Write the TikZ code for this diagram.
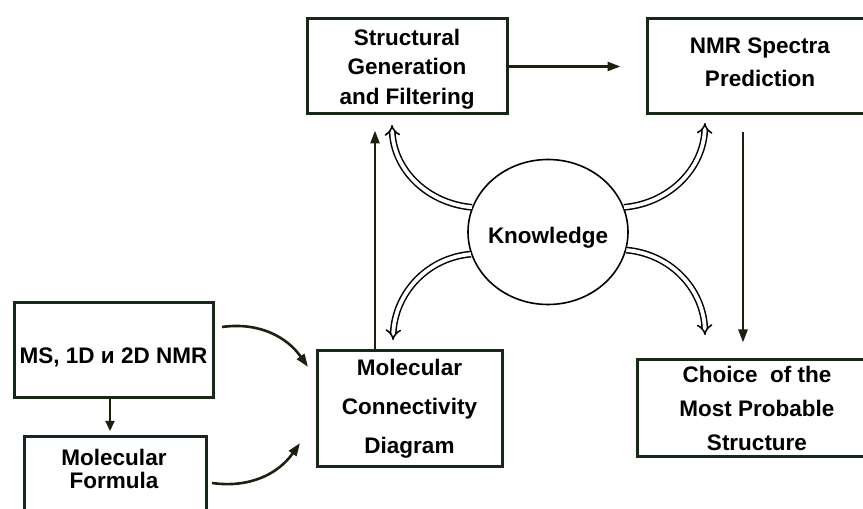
\documentclass[tikz,border=0pt]{standalone}
\usepackage{fontspec}
\setmainfont{Liberation Sans}
\usetikzlibrary{arrows.meta,calc,shapes.geometric}
\definecolor{boxc}{RGB}{22,40,22}
\definecolor{arrc}{RGB}{30,32,15}
\tikzset{
  box/.style={draw=boxc, line width=3pt, rectangle, align=center, inner sep=0pt},
  txt/.style={font=\fontsize{22.5}{30}\selectfont\bfseries, align=center, inner sep=0pt},
  blk/.style={draw=arrc, line width=2.6pt, -{Triangle[length=13pt,width=9pt]}},
  dbl/.style={draw=black, line width=1.5pt, double=white, double distance=3.8pt, -{Implies[length=8pt,width=15pt]}},
}
\begin{document}
\begin{tikzpicture}[x=1pt,y=1pt]
\useasboundingbox (0,0) rectangle (863,509);
% boxes
\node[box, minimum width=200pt, minimum height=95pt, text depth=0pt, font=\fontsize{22.5}{29.5}\selectfont\bfseries] (struct) at (407,442.5) {Structural\\Generation\\and Filtering};
\node[box, minimum width=226pt, minimum height=95pt, text depth=9pt, font=\fontsize{22.5}{33}\selectfont\bfseries] (nmr) at (760,442.5) {NMR Spectra\\Prediction};
\node[box, minimum width=240pt, minimum height=97pt, font=\fontsize{22.5}{34}\selectfont\bfseries] (choice) at (757,100.5) {Choice\ \ of the\\Most Probable\\Structure};
\node[box, minimum width=199pt, minimum height=95pt, text height=29pt, font=\fontsize{22.5}{30}\selectfont\bfseries] (ms) at (113.5,158.5) {MS, 1D и 2D NMR};
\node[box, minimum width=182pt, minimum height=90pt, anchor=north west] (mf) at (23,74) {};
\node[txt, font=\fontsize{22.5}{23}\selectfont\bfseries] (mft) at (114,40) {Molecular\\Formula};
\node[box, minimum width=185pt, minimum height=116pt, font=\fontsize{22.5}{39}\selectfont\bfseries] (conn) at (409.5,100) {Molecular\\Connectivity\\Diagram};
\node[draw=black, line width=1.6pt, ellipse, minimum width=160pt, minimum height=145pt, inner sep=0pt, text height=28pt, font=\fontsize{22.5}{30}\selectfont\bfseries] (kn) at (548,277) {\makebox[0pt]{Knowledge}};
% helper coordinates
\coordinate (xa) at (375,0);
\coordinate (xb) at (743,0);
\coordinate (xc) at (110,0);
\coordinate (msout) at (222,182);
\coordinate (msin) at (308,142);
\coordinate (mfout) at (212,26);
\coordinate (mfin) at (300,66);
\coordinate (tul) at (392,384);
\coordinate (tll) at (393,169);
\coordinate (tur) at (705,386);
\coordinate (tlr) at (705,174);
% black arrows
\draw[blk, shorten >=15pt] (conn.north -| xa) -- (struct.south -| xa);
\draw[blk, shorten >=25pt] (struct.east) -- (nmr.west |- struct.east);
\draw[blk, shorten <=17pt, shorten >=16pt] (nmr.south -| xb) -- (choice.north -| xb);
\draw[blk, line width=2.2pt, -{Triangle[length=10pt,width=9pt]}, shorten >=4pt] (ms.south -| xc) -- (mf.north -| xc);
\draw[blk] (msout) to[out=8, in=125] (msin);
\draw[blk] (mfout) to[out=-8, in=-125] (mfin);
% knowledge double arrows
\draw[dbl] (kn.162) to[out=175, in=-88] (tul);
\draw[dbl] (kn.196) to[out=185, in=88] (tll);
\draw[dbl] (kn.18) to[out=5, in=-92] (tur);
\draw[dbl] (kn.347) to[out=-5, in=92] (tlr);
\end{tikzpicture}
\end{document}
